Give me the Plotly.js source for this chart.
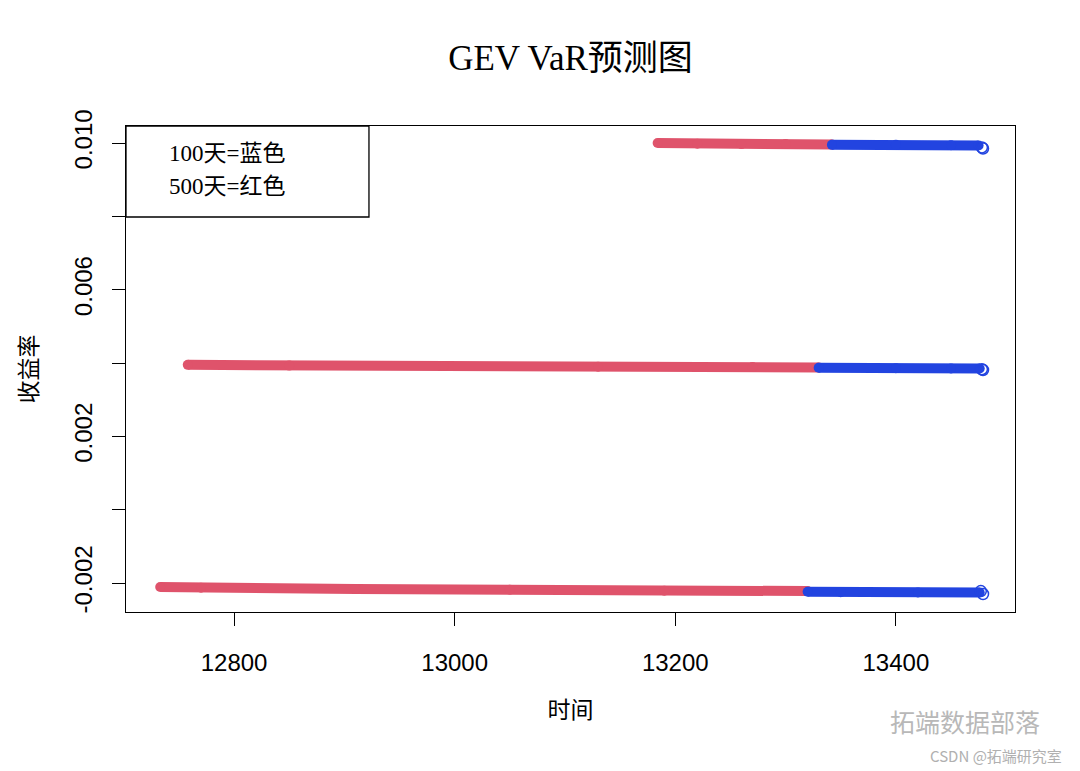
<!DOCTYPE html>
<html>
<head>
<meta charset="utf-8">
<script src="https://cdn.plot.ly/plotly-3.0.1.min.js"></script>
<style>
  html, body { margin: 0; padding: 0; background: #fff; }
  #chart { width: 1080px; height: 771px; }
</style>
</head>
<body>
<div id="chart"></div>
<script>
    'use strict';

    // 500-day window (red), three VaR levels
    var red_top_x = [13184, 13220, 13260, 13300, 13342];
    var red_top_y = [0.01000, 0.00998, 0.00997, 0.00997, 0.00996];
    var red_mid_x = [12758, 12850, 12990, 13130, 13270, 13330];
    var red_mid_y = [0.00395, 0.00393, 0.00392, 0.00390, 0.00389, 0.00388];
    var red_bot_x = [12733, 12770, 12910, 13050, 13190, 13320];
    var red_bot_y = [-0.00211, -0.00213, -0.00216, -0.00218, -0.00221, -0.00222];

    // 100-day window (blue)
    var blue_top_x = [13342, 13400, 13450, 13475];
    var blue_top_y = [0.00995, 0.00995, 0.00994, 0.00993];
    var blue_mid_x = [13330, 13400, 13450, 13476];
    var blue_mid_y = [0.00387, 0.00386, 0.00385, 0.00385];
    var blue_bot_x = [13320, 13350, 13420, 13476];
    var blue_bot_y = [-0.00224, -0.00225, -0.00226, -0.00226];

    // last few blue points, drawn as open circles
    var blue_end_x = [13478, 13479, 13478, 13479, 13477, 13479];
    var blue_end_y = [0.00988, 0.00985, 0.00383, 0.00381, -0.00222, -0.00230];

    var x_ticks = [12800, 13000, 13200, 13400];
    var y_ticks = [-0.002, 0.000, 0.002, 0.004, 0.006, 0.008, 0.010];
    var y_tick_labels = ['-0.002', '', '0.002', '', '0.006', '', '0.010'];

    var RED = '#DF536B';
    var BLUE = '#2244E0';
    var serif = '"Liberation Serif", "Noto Sans CJK SC", serif';
    var sans = '"Liberation Sans", Arial, sans-serif';

    function band(x, y, color) {
        return {
            x: x, y: y,
            type: 'scatter',
            mode: 'lines+markers',
            line: {color: color, width: 10},
            marker: {color: color, size: 10},
            hoverinfo: 'skip',
            showlegend: false
        };
    }

    var data = [
        band(red_top_x, red_top_y, RED),
        band(red_mid_x, red_mid_y, RED),
        band(red_bot_x, red_bot_y, RED),
        band(blue_top_x, blue_top_y, BLUE),
        band(blue_mid_x, blue_mid_y, BLUE),
        band(blue_bot_x, blue_bot_y, BLUE),
        {
            x: blue_end_x, y: blue_end_y,
            type: 'scatter',
            mode: 'markers',
            marker: {symbol: 'circle-open', color: BLUE, size: 11, line: {width: 1.5, color: BLUE}},
            hoverinfo: 'skip',
            showlegend: false
        }
    ];

    var layout = {
        width: 1080,
        height: 771,
        margin: {l: 126, r: 65, t: 126, b: 159},
        paper_bgcolor: '#fff',
        plot_bgcolor: '#fff',
        title: {
            text: 'GEV VaR预测图',
            font: {family: serif, size: 35, color: '#000'},
            x: 0.5, xref: 'paper',
            y: 1 - 58 / 771, yanchor: 'middle'
        },
        xaxis: {
            range: [12702, 13508],
            tickvals: x_ticks,
            ticktext: x_ticks.map(String),
            ticks: 'outside', ticklen: 13, tickwidth: 1, tickcolor: '#000',
            ticklabelstandoff: 16,
            tickfont: {family: sans, size: 24, color: '#000'},
            showgrid: false, zeroline: false,
            showline: true, mirror: true, linecolor: '#000', linewidth: 1.3,
            title: {text: '时间', font: {family: serif, size: 23, color: '#000'}, standoff: 26}
        },
        yaxis: {
            range: [-0.00279, 0.010464],
            tickvals: y_ticks,
            ticktext: y_tick_labels,
            tickangle: -90,
            ticks: 'outside', ticklen: 13, tickwidth: 1, tickcolor: '#000',
            ticklabelstandoff: 10,
            tickfont: {family: sans, size: 24, color: '#000'},
            showgrid: false, zeroline: false,
            showline: true, mirror: true, linecolor: '#000', linewidth: 1.3,
            title: {text: '收益率', font: {family: serif, size: 23, color: '#000'}, standoff: 26}
        },
        shapes: [{
            type: 'rect', xref: 'paper', yref: 'paper',
            x0: 0, x1: 0.2733, y0: 0.8128, y1: 1,
            line: {color: '#000', width: 1.3}, fillcolor: 'rgba(0,0,0,0)'
        }],
        annotations: [
            {xref: 'paper', yref: 'paper', x: 0.0461, y: 0.9444, xanchor: 'left', yanchor: 'middle',
             text: '100天=蓝色', showarrow: false, font: {family: serif, size: 23, color: '#000'}},
            {xref: 'paper', yref: 'paper', x: 0.0461, y: 0.8765, xanchor: 'left', yanchor: 'middle',
             text: '500天=红色', showarrow: false, font: {family: serif, size: 23, color: '#000'}},
            {xref: 'paper', yref: 'paper', x: 1.03, y: -0.225, xanchor: 'right', yanchor: 'middle',
             text: '拓端数据部落', showarrow: false, font: {family: '"Noto Sans CJK SC", sans-serif', size: 25, color: '#b8b8b8'}},
            {xref: 'paper', yref: 'paper', x: 1.055, y: -0.295, xanchor: 'right', yanchor: 'middle',
             text: 'CSDN @拓端研究室', showarrow: false, font: {family: '"Noto Sans CJK SC", sans-serif', size: 15, color: '#b0b0b0'}}
        ]
    };

    Plotly.newPlot('chart', data, layout, {displayModeBar: false, staticPlot: true});
</script>
</body>
</html>
